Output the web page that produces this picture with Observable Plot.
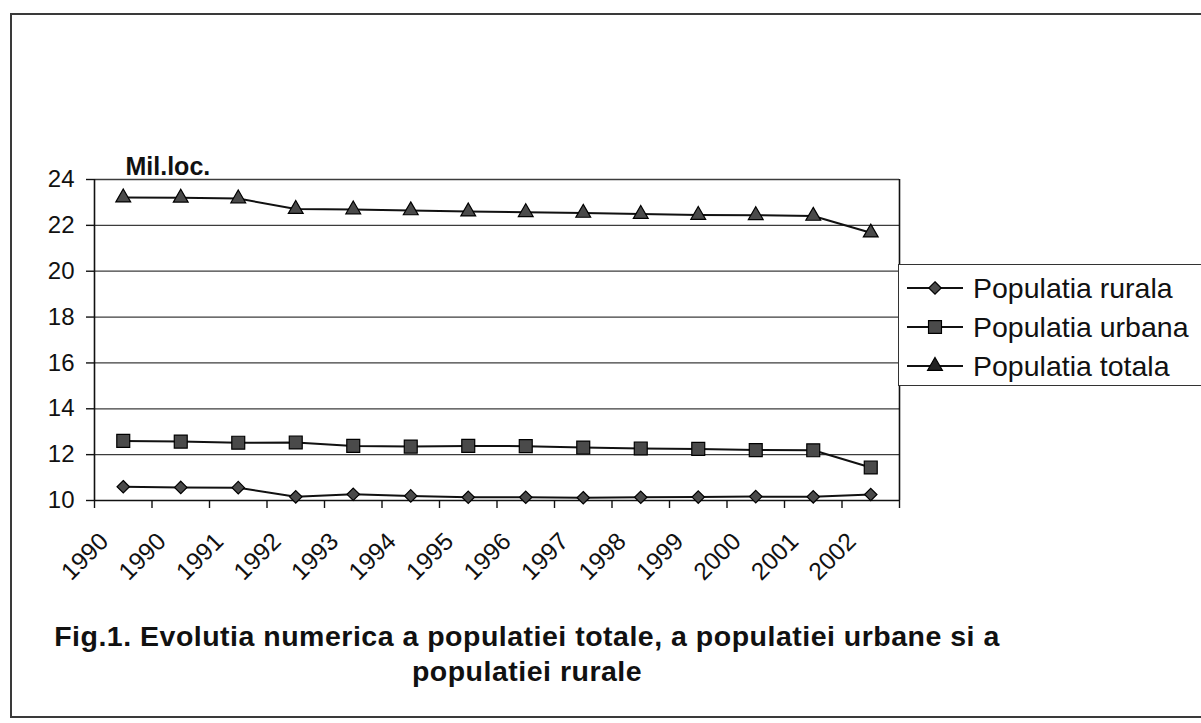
<!DOCTYPE html>
<html>
<head>
<meta charset="utf-8">
<script src="https://cdn.jsdelivr.net/npm/d3@7"></script>
<script src="https://cdn.jsdelivr.net/npm/@observablehq/plot@0.6"></script>
<style>
html, body { margin: 0; padding: 0; overflow: hidden; background: #fff; width: 1201px; height: 723px; }
body { position: relative; font-family: "Liberation Sans", Arial, sans-serif; color: #111; }
#frame { position: absolute; left: 10px; top: 13px; width: 1210px; height: 705px; border: 2px solid #3a3a3a; box-sizing: border-box; }
#chart { position: absolute; left: 0; top: 0; }
#legend { position: absolute; left: 898px; top: 264px; width: 330px; height: 122px; border: 1.5px solid #333; box-sizing: border-box; background: #fff; }
.row { position: absolute; left: 0; height: 38px; display: flex; align-items: center; }
.row svg { display: block; }
.row span { font-size: 28.5px; margin-left: 6px; white-space: nowrap; }
#title { position: absolute; left: 0; width: 1054px; top: 619px; text-align: center; font-weight: bold; font-size: 28.5px; letter-spacing: 0.5px; line-height: 35px; }
</style>
</head>
<body>
<div id="frame"></div>
<div id="chart"></div>
<div id="legend"></div>
<div id="title"></div>
<script>
// ---- data ----
const years = ["1990","1990","1991","1992","1993","1994","1995","1996","1997","1998","1999","2000","2001","2002"];
const rurala = [10.6, 10.57, 10.56, 10.16, 10.27, 10.2, 10.14, 10.14, 10.12, 10.14, 10.15, 10.17, 10.16, 10.26];
const urbana = [12.6, 12.57, 12.52, 12.53, 12.38, 12.35, 12.38, 12.37, 12.31, 12.27, 12.25, 12.2, 12.19, 11.44];
const totala = [23.21, 23.2, 23.17, 22.71, 22.69, 22.65, 22.6, 22.57, 22.54, 22.49, 22.45, 22.44, 22.41, 21.68];
const yTicks = [10, 12, 14, 16, 18, 20, 22, 24];
const seriesNames = ["Populatia rurala", "Populatia urbana", "Populatia totala"];
const yUnit = "Mil.loc.";
const titleLines = ["Fig.1. Evolutia numerica a populatiei totale, a populatiei urbane si a", "populatiei rurale"];

// ---- build ----
const seriesValues = [rurala, urbana, totala];
const symbolNames = ["diamond2", "square", "triangle"];
const symbolD3 = [d3.symbolDiamond2, d3.symbolSquare, d3.symbolTriangle];
const radii = [5.6, 7.3, 5.5];
const markFill = "#4a4a4a";

const rows = seriesNames.flatMap((s, k) =>
  seriesValues[k].map((v, i) => ({series: s, k, pos: i + 0.5, value: v}))
);
const centers = years.map((_, i) => i + 0.5);
const bounds = d3.range(years.length + 1);

const marks = [
  Plot.ruleY(yTicks.slice(1), {stroke: "#3c3c3c", strokeWidth: 1.3}),
  Plot.ruleY([yTicks[0]], {stroke: "#111", strokeWidth: 1.6}),
  Plot.ruleX([0, years.length], {y1: yTicks[0], y2: yTicks[yTicks.length - 1], stroke: "#111", strokeWidth: 1.6}),
  Plot.axisY(yTicks, {tickSize: 8, tickPadding: 12, fontSize: 24, label: null, stroke: "#111", strokeWidth: 1.4}),
  Plot.axisX(bounds, {tickSize: 8, tickFormat: () => "", label: null, stroke: "#111", strokeWidth: 1.4}),
  Plot.axisX(centers, {
    tickSize: 0, tickRotate: -45, textAnchor: "end", lineAnchor: "middle",
    tickFormat: d => years[Math.round(d - 0.5)], fontSize: 24.5, dx: -19, dy: 25, label: null
  }),
  Plot.text([yUnit], {frameAnchor: "top-left", dx: 31, dy: -22, textAnchor: "start", fontSize: 25, fontWeight: "bold"})
];
seriesNames.forEach((s, k) => {
  const d = rows.filter(r => r.k === k);
  marks.push(Plot.line(d, {x: "pos", y: "value", stroke: "#111", strokeWidth: 2}));
  marks.push(Plot.dot(d, {x: "pos", y: "value", symbol: () => symbolNames[k], r: radii[k], fill: markFill, stroke: "#000", strokeWidth: 1.2}));
});

const chart = Plot.plot({
  width: 905,
  height: 612,
  marginLeft: 94,
  marginRight: 6,
  marginTop: 179,
  marginBottom: 112,
  x: {type: "linear", domain: [0, years.length]},
  y: {domain: [yTicks[0], yTicks[yTicks.length - 1]]},
  style: {fontFamily: "'Liberation Sans', Arial, sans-serif", color: "#111", background: "transparent", overflow: "visible"},
  marks
});
document.getElementById("chart").append(chart);

// ---- legend ----
const legend = d3.select("#legend");
seriesNames.forEach((s, k) => {
  const row = legend.append("div").attr("class", "row").style("top", (4 + k * 39) + "px");
  const svg = row.append("svg").attr("width", 68).attr("height", 38);
  svg.append("line").attr("x1", 8).attr("x2", 64).attr("y1", 19).attr("y2", 19).attr("stroke", "#111").attr("stroke-width", 2);
  svg.append("path").attr("transform", "translate(36,19)")
    .attr("d", d3.symbol(symbolD3[k], Math.PI * radii[k] * radii[k])())
    .attr("fill", k === 2 ? "#222" : markFill).attr("stroke", "#000").attr("stroke-width", 1.2);
  row.append("span").text(s);
});

// ---- title ----
d3.select("#title").selectAll("div").data(titleLines).join("div").text(d => d);
</script>
</body>
</html>
